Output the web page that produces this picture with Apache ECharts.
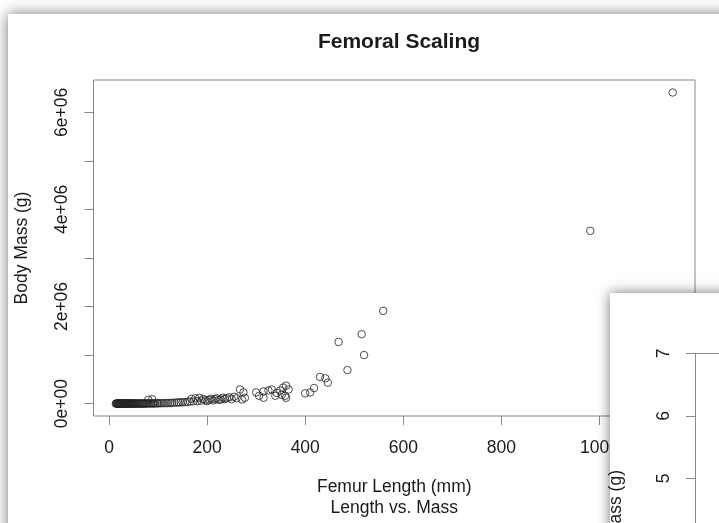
<!DOCTYPE html>
<html>
<head>
<meta charset="utf-8">
<title>Femoral Scaling</title>
<script src="https://cdn.jsdelivr.net/npm/echarts@6/dist/echarts.min.js"></script>
<style>
html,body{margin:0;padding:0;background:#fff;}
#main{width:719px;height:523px;}
</style>
</head>
<body>
<div id="main"></div>
<script>
// femur length (mm) / body mass (g)
var femurLength = [
 14,15,16,17,18,18,19,20,21,22,22,23,24,25,25,26,27,28,29,30,30,31,32,33,34,35,36,37,38,39,
 40,41,42,43,44,45,46,47,48,50,51,52,54,55,57,58,60,62,63,65,67,68,70,72,74,76,78,80,80,83,
 85,88,88,90,92,95,98,100,104,108,112,116,120,
 124,128,133,138,142,146,150,155,160,165,168,172,176,180,184,188,192,196,200,204,
 208,212,216,220,224,228,232,236,240,245,250,255,260,
 267,271,274,277,300,306,315,315,325,332,339,342,349,352,355,359,361,361,366,
 400,410,418,430,441,446,468,486,515,520,559,981,1149
];
var bodyMass = [
 6,9,11,12,15,17,20,22,25,30,28,35,38,45,42,50,55,60,70,75,82,90,95,110,120,130,150,160,175,190,
 210,230,250,270,300,320,350,380,400,450,480,520,600,650,700,780,850,950,1000,1100,1250,1300,1500,1600,1800,2000,2300,2500,80000,2800,
 3100,3500,90000,3800,4200,4600,5200,5500,6300,7000,8000,9000,10000,
 12000,15000,18000,20000,25000,22000,30000,28000,35000,40000,100000,45000,110000,50000,120000,60000,95000,70000,50000,80000,
 100000,65000,90000,110000,75000,85000,120000,95000,110000,130000,90000,140000,110000,
 290000,85000,230000,120000,230000,160000,120000,250000,270000,290000,160000,220000,270000,180000,330000,160000,370000,120000,290000,
 210000,230000,320000,550000,520000,430000,1270000,690000,1430000,1000000,1910000,3560000,6410000
];
var xTicks = [0, 200, 400, 600, 800, 1000];
var yTicks = [0, 1e6, 2e6, 3e6, 4e6, 5e6, 6e6];
var yLabels = [0, 2e6, 4e6, 6e6];
var logTicks = [5, 6, 7];

var pts = [];
for (var i = 0; i < femurLength.length; i++) {
  pts.push([femurLength[i], bodyMass[i]]);
}

var FONT = '"Liberation Sans", Arial, Helvetica, sans-serif';
var INK = '#1a1a1a';
var LINE = '#888';

function sci(v) {
  if (v === 0) return '0e+00';
  return (v / 1e6) + 'e+06';
}

var chart = echarts.init(document.getElementById('main'));
var option = {
  backgroundColor: '#fff',
  animation: false,
  title: {
    text: 'Femoral Scaling',
    left: 394, top: 27,
    textAlign: 'center',
    textStyle: {fontFamily: FONT, fontSize: 21, fontWeight: 'bold', color: INK}
  },
  grid: [
    {left: 93.5, top: 80, width: 601.5, height: 338.5, show: true,
     borderColor: LINE, borderWidth: 1, backgroundColor: 'transparent'},
    {left: 695, top: 353.5, width: 200, height: 169.5, zlevel: 2}
  ],
  xAxis: [
    {type: 'value', gridIndex: 0, min: -31.6, max: 1194.5,
     splitLine: {show: false}, axisLine: {show: false, onZero: false},
     axisTick: {show: true, length: 9, customValues: xTicks, lineStyle: {color: LINE}},
     axisLabel: {customValues: xTicks, margin: 23, color: INK, fontFamily: FONT, fontSize: 17.5,
                 formatter: function (v) { return String(v); }},
     name: 'Femur Length (mm)\nLength vs. Mass', nameLocation: 'middle', nameGap: 61,
     nameTextStyle: {color: INK, fontFamily: FONT, fontSize: 17.5, lineHeight: 20.5}},
    // top edge of the second plot's box
    {type: 'value', gridIndex: 1, zlevel: 2, position: 'top', min: 0, max: 1,
     splitLine: {show: false}, axisTick: {show: false}, axisLabel: {show: false},
     axisLine: {show: true, onZero: false, lineStyle: {color: LINE}}}
  ],
  yAxis: [
    {type: 'value', gridIndex: 0, min: -256000, max: 6667000,
     splitLine: {show: false}, axisLine: {show: false, onZero: false},
     axisTick: {show: true, length: 9, customValues: yTicks, lineStyle: {color: LINE}},
     axisLabel: {customValues: yLabels, rotate: 90, margin: 22, formatter: sci,
                 color: INK, fontFamily: FONT, fontSize: 17.5},
     name: 'Body Mass (g)', nameLocation: 'middle', nameGap: 62,
     nameTextStyle: {color: INK, fontFamily: FONT, fontSize: 17.5}},
    {type: 'value', gridIndex: 1, zlevel: 2, min: 4.288, max: 7,
     splitLine: {show: false}, axisLine: {show: true, onZero: false, lineStyle: {color: LINE}},
     axisTick: {show: true, length: 9, customValues: logTicks, lineStyle: {color: LINE}},
     axisLabel: {customValues: logTicks, rotate: 90, margin: 22, color: INK, fontFamily: FONT, fontSize: 17.5}}
  ],
  graphic: [
    // main plot window
    {type: 'rect', zlevel: 0, z: -10, shape: {x: 8, y: 14, width: 800, height: 600},
     style: {fill: '#fff', shadowBlur: 14, shadowColor: 'rgba(0,0,0,0.55)'}},
    // second window laid over it
    {type: 'rect', zlevel: 1, z: 0, shape: {x: 610, y: 293, width: 300, height: 300},
     style: {fill: '#fff', shadowBlur: 12, shadowColor: 'rgba(0,0,0,0.55)'}},
    {type: 'text', zlevel: 2, z: 5, x: 616, y: 470, rotation: Math.PI / 2,
     style: {text: 'Body Mass (g)', font: '17.5px ' + FONT, fill: INK,
             align: 'right', verticalAlign: 'middle'}}
  ],
  series: [{
    type: 'scatter',
    xAxisIndex: 0, yAxisIndex: 0,
    data: pts,
    symbol: 'circle',
    symbolSize: 7.5,
    itemStyle: {color: 'transparent', borderColor: '#222', borderWidth: 1},
    emphasis: {disabled: true}
  }]
};
chart.setOption(option);
</script>
</body>
</html>
